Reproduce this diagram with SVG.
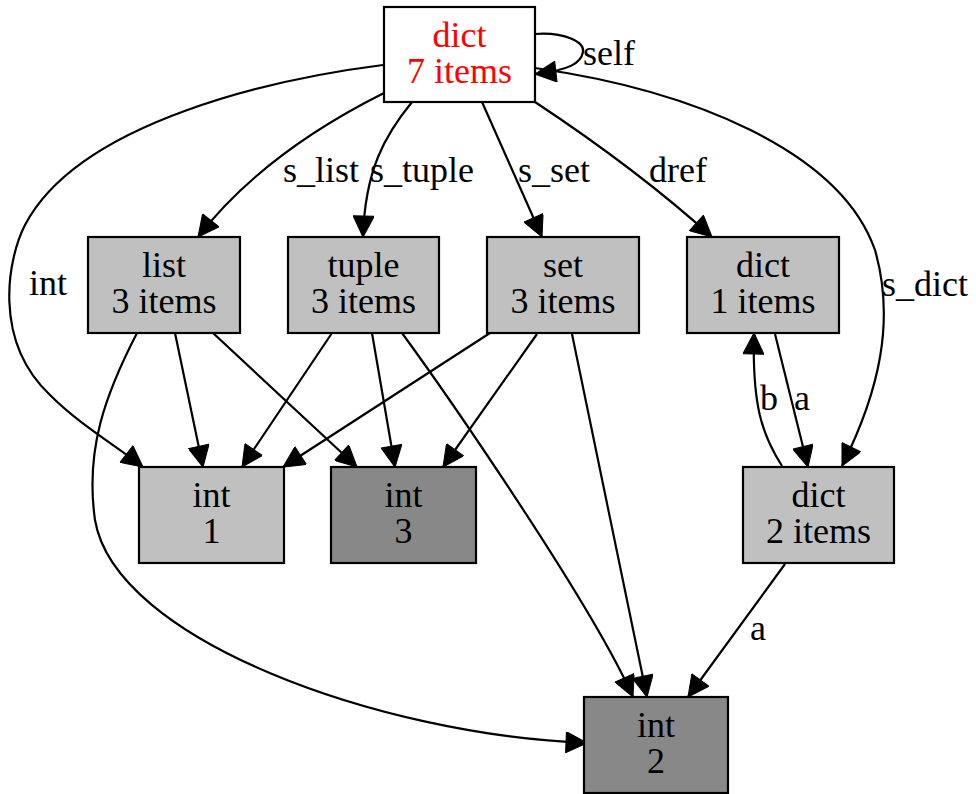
<svg xmlns="http://www.w3.org/2000/svg" width="976" height="794" viewBox="0 0 976 794">
<defs>
<style>
.node rect{stroke:#000;stroke-width:2.2}
.light{fill:#c0c0c0}
.dark{fill:#888888}
text{font-family:"Liberation Serif","Times New Roman",serif;font-size:36px;fill:#000}
.nt{text-anchor:middle}
.red{fill:#ff0000}
.edges path{fill:none;stroke:#000;stroke-width:2.2;marker-end:url(#ah)}
</style>
<marker id="ah" viewBox="0 0 10 10" refX="10" refY="5" markerWidth="27" markerHeight="21" markerUnits="userSpaceOnUse" orient="auto">
<path d="M0,0 L10,5 L0,10 z" fill="#000" stroke="#000" stroke-width="0.5"/>
</marker>
</defs>
<rect width="976" height="794" fill="#fff"/>
<g class="edges">
<path d="M535,34 C565,32 585,42 583,52 C581,63 570,70 535,74"/>
<path d="M384,93 C320,125 250,170 198,237"/>
<path d="M383,65 C280,78 80,120 25,225 C8,258 -8,340 50,395 C80,425 115,445 143,467"/>
<path d="M412,102 C385,135 365,170 363,237"/>
<path d="M482,102 L542,237"/>
<path d="M535,102 C600,145 660,190 712,237"/>
<path d="M535,68 C690,90 840,150 875,250 C895,320 880,390 842,466"/>
<path d="M175,333 L203,467"/>
<path d="M213,333 L357,467"/>
<path d="M137,333 C105,395 85,450 95,520 C115,640 380,735 587,743"/>
<path d="M332,333 L242,467"/>
<path d="M372,333 L395,467"/>
<path d="M402,333 C440,385 590,600 633,697"/>
<path d="M490,333 L283,467"/>
<path d="M537,334 L443,467"/>
<path d="M572,334 L647,697"/>
<path d="M775,334 L808,467"/>
<path d="M782,466 C762,435 752,405 754,333"/>
<path d="M785,564 L688,697"/>
</g>
<g class="labels">
<text x="583" y="65">self</text>
<text x="283" y="182">s_list</text>
<text x="370" y="182">s_tuple</text>
<text x="518" y="182">s_set</text>
<text x="649" y="182">dref</text>
<text x="29" y="295">int</text>
<text x="882" y="296">s_dict</text>
<text x="760" y="410">b</text>
<text x="794" y="410">a</text>
<text x="750" y="640">a</text>
</g>
<g id="n_top" class="node"><rect x="384" y="7" width="151" height="95" fill="#fff"/><text class="nt red" x="459.5" y="47">dict</text><text class="nt red" x="459.5" y="83">7 items</text></g>
<g id="n_list" class="node"><rect class="light" x="88" y="237" width="152" height="96"/><text class="nt" x="164" y="277">list</text><text class="nt" x="164" y="313">3 items</text></g>
<g id="n_tuple" class="node"><rect class="light" x="288" y="237" width="151" height="96"/><text class="nt" x="363.5" y="277">tuple</text><text class="nt" x="363.5" y="313">3 items</text></g>
<g id="n_set" class="node"><rect class="light" x="487" y="237" width="152" height="96"/><text class="nt" x="563" y="277">set</text><text class="nt" x="563" y="313">3 items</text></g>
<g id="n_dict1" class="node"><rect class="light" x="687" y="237" width="152" height="96"/><text class="nt" x="763" y="277">dict</text><text class="nt" x="763" y="313">1 items</text></g>
<g id="n_int1" class="node"><rect class="light" x="139" y="467" width="145" height="96"/><text class="nt" x="211.5" y="507">int</text><text class="nt" x="211.5" y="543">1</text></g>
<g id="n_int3" class="node"><rect class="dark" x="331" y="467" width="145" height="96"/><text class="nt" x="403.5" y="507">int</text><text class="nt" x="403.5" y="543">3</text></g>
<g id="n_dict2" class="node"><rect class="light" x="743" y="467" width="151" height="96"/><text class="nt" x="818.5" y="507">dict</text><text class="nt" x="818.5" y="543">2 items</text></g>
<g id="n_int2" class="node"><rect class="dark" x="584" y="697" width="144" height="96"/><text class="nt" x="656" y="737">int</text><text class="nt" x="656" y="773">2</text></g>
</svg>
